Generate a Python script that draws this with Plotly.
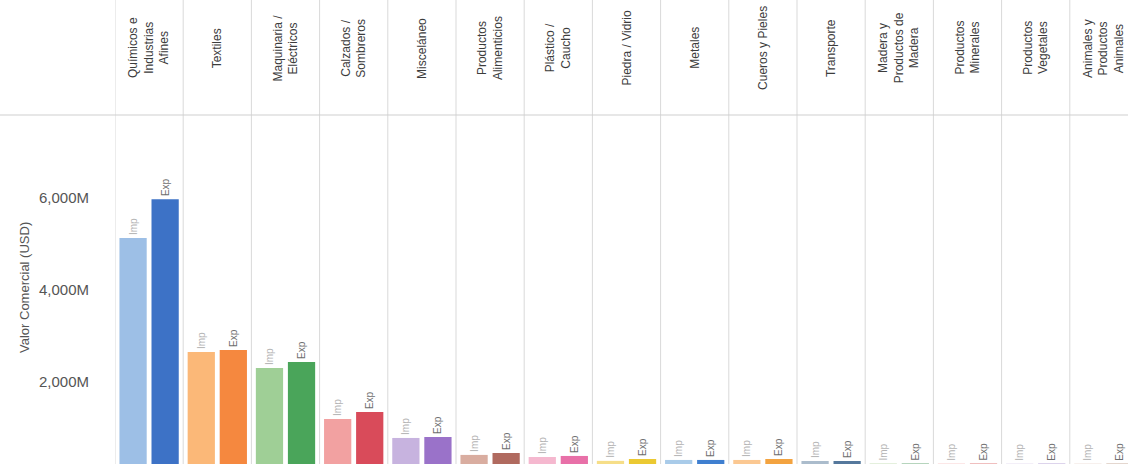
import plotly.graph_objects as go

categories = [
    "Químicos e<br>Industrias<br>Afines", "Textiles", "Maquinaria /<br>Eléctricos",
    "Calzados /<br>Sombreros", "Misceláneo", "Productos<br>Alimenticios",
    "Plástico /<br>Caucho", "Piedra / Vidrio", "Metales", "Cueros y Pieles",
    "Transporte", "Madera y<br>Productos de<br>Madera", "Productos<br>Minerales",
    "Productos<br>Vegetales", "Animales y<br>Productos<br>Animales",
]
imp_values = [5130, 2640, 2290, 1180, 765, 395, 350, 265, 285, 285, 262, 205, 203, 202, 201]
exp_values = [5980, 2685, 2425, 1330, 786, 437, 372, 306, 285, 306, 262, 206, 205, 204, 203]
imp_colors = ["#9dbfe6", "#fbb878", "#9fcf96", "#f2a1a1", "#c7b3df", "#d9ada0", "#f5b8cf",
              "#f6de88", "#a9cbe9", "#fbc892", "#abbccc", "#b9d9a8", "#f3b0b0", "#cdbde3", "#d8b8a8"]
exp_colors = ["#3d72c6", "#f5883f", "#4aa55a", "#d94b5a", "#9a72c9", "#b06a5f", "#e870a8",
              "#ebc932", "#3f7fd0", "#f3a340", "#55789c", "#5aa06a", "#d95a5a", "#9a80c8", "#a57a60"]
y_tick_vals = [0, 2000, 4000, 6000]
y_tick_text = ["0M", "2,000M", "4,000M", "6,000M"]
y_title = "Valor Comercial (USD)"

FONT = "Liberation Sans, Arial, sans-serif"
W, H = 1128, 464
ML, MT = 115, 115
PH = H - MT

fig = go.Figure()
fig.add_trace(go.Bar(
    x=categories, y=imp_values, name="Imp", marker=dict(color=imp_colors, line=dict(width=0)),
    text=["Imp"] * len(categories), textposition="outside", textangle=-90,
    textfont=dict(family=FONT, size=10, color="#b4b4b4"), constraintext="none", cliponaxis=False,
))
fig.add_trace(go.Bar(
    x=categories, y=exp_values, name="Exp", marker=dict(color=exp_colors, line=dict(width=0)),
    text=["Exp"] * len(categories), textposition="outside", textangle=-90,
    textfont=dict(family=FONT, size=10, color="#6e6e6e"), constraintext="none", cliponaxis=False,
))

col_w = 68.2
x_max = -0.5 + (W - ML) / col_w

shapes = []
for i in range(len(categories) + 1):
    shapes.append(dict(type="line", xref="x", yref="paper", x0=i - 0.5, x1=i - 0.5,
                       y0=0, y1=1 + MT / PH, line=dict(color="#d9d9d9", width=1)))
shapes.append(dict(type="line", xref="paper", yref="paper", x0=-ML / (W - ML), x1=1,
                   y0=1, y1=1, line=dict(color="#cfcfcf", width=1)))

annotations = []
for c in categories:
    annotations.append(dict(x=c, xref="x", y=(H - 48) / PH, yref="paper", text=c,
                            textangle=-90, showarrow=False, xanchor="center", yanchor="middle",
                            align="center", font=dict(family=FONT, size=12, color="#3c3c3c")))
annotations.append(dict(x=(24 - ML) / (W - ML), xref="paper", y=(H - 288) / PH, yref="paper",
                        text=y_title, textangle=-90, showarrow=False, xanchor="center",
                        yanchor="middle", font=dict(family=FONT, size=13, color="#555555")))

fig.update_layout(
    width=W, height=H, margin=dict(l=ML, r=0, t=MT, b=0, pad=0, autoexpand=False),
    paper_bgcolor="white", plot_bgcolor="white", showlegend=False,
    barmode="group", bargap=0.06, bargroupgap=0.15,
    shapes=shapes, annotations=annotations,
    xaxis=dict(type="category", range=[-0.5, x_max], showticklabels=False, showgrid=False,
               zeroline=False, showline=False, fixedrange=True, automargin=False),
    yaxis=dict(range=[196.5, 7817], tickvals=y_tick_vals, ticktext=y_tick_text, automargin=False,
               showgrid=False, zeroline=False, showline=False, ticks="outside", ticklen=22,
               tickcolor="rgba(0,0,0,0)", tickfont=dict(family=FONT, size=15, color="#555555")),
)

fig.write_html("out.html", config={"displayModeBar": False},
               post_script="document.body.style.margin='0';document.body.style.overflow='hidden';")
